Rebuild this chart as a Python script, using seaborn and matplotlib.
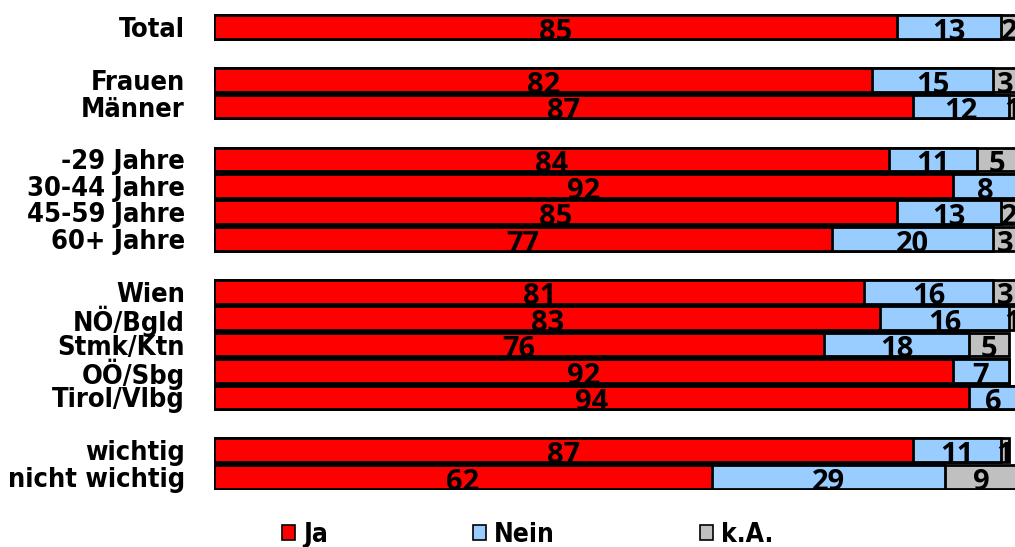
import matplotlib
matplotlib.use("Agg")
import matplotlib.pyplot as plt
import matplotlib.patches as mpatches
import seaborn as sns
import pandas as pd

# Survey results in percent, grouped blocks separated by a blank row
groups = [
    ["Total"],
    ["Frauen", "Männer"],
    ["-29 Jahre", "30-44 Jahre", "45-59 Jahre", "60+ Jahre"],
    ["Wien", "NÖ/Bgld", "Stmk/Ktn", "OÖ/Sbg", "Tirol/Vlbg"],
    ["wichtig", "nicht wichtig"],
]
ja = [85, 82, 87, 84, 92, 85, 77, 81, 83, 76, 92, 94, 87, 62]
nein = [13, 15, 12, 11, 8, 13, 20, 16, 16, 18, 7, 6, 11, 29]
ka = [2, 3, 1, 5, 0, 2, 3, 3, 1, 5, 0, 0, 1, 9]

series_names = ["Ja", "Nein", "k.A."]
colors = ["#FF0000", "#99CCFF", "#C0C0C0"]

# row positions: one empty row between groups
labels, pos = [], []
p = 0
for g in groups:
    for name in g:
        labels.append(name)
        pos.append(p)
        p += 1
    p += 1
last = pos[-1]

df = pd.DataFrame({"label": labels, "pos": pos, "ja": ja, "nein": nein, "ka": ka})
df["c_nein"] = df["ja"] + df["nein"]
df["c_ka"] = df["c_nein"] + df["ka"]

sns.set_theme(style="white")
plt.rcParams["text.color"] = "black"
plt.rcParams["ytick.color"] = "black"

fig = plt.figure(figsize=(10.15, 5.47), dpi=100)
fig.patch.set_facecolor("white")
ax = fig.add_axes([214 / 1015, (547 - 490) / 547, 803 / 1015, 476 / 547])

# layered cumulative bars: total (k.A.), Ja+Nein, Ja
for col, color in zip(["c_ka", "c_nein", "ja"], colors[::-1]):
    sns.barplot(data=df, x=col, y="pos", orient="h", native_scale=True,
                color=color, edgecolor="black", linewidth=2, width=0.9,
                errorbar=None, ax=ax, saturation=1)

ax.set_xlim(0, 100)
ax.set_ylim(last + 0.5, -0.5)
ax.set_yticks(pos)
ax.set_yticklabels(labels, fontfamily="DejaVu Sans", fontstretch="condensed",
                   fontweight="bold", fontsize=19.5, color="black")
ax.tick_params(axis="y", length=0, pad=21)
ax.set_xticks([])
ax.set_xlabel("")
ax.set_ylabel("")
for s in ax.spines.values():
    s.set_visible(False)

# value labels centred on each segment
for _, r in df.iterrows():
    segs = [(0, r["ja"]), (r["ja"], r["nein"]), (r["c_nein"], r["ka"])]
    for start, val in segs:
        if val <= 0:
            continue
        ax.text(start + val / 2, r["pos"] + 0.2, f"{int(val)}",
                ha="center", va="center", fontsize=21, fontweight="bold",
                fontfamily=["Open Sans", "DejaVu Sans"], color="black")

handles = [mpatches.Patch(facecolor=c, edgecolor="black", linewidth=1.2, label=n)
           for c, n in zip(colors, series_names)]
leg = fig.legend(handles=handles, loc="center", bbox_to_anchor=(0.52, (547 - 535) / 547),
                 ncol=3, frameon=False, handlelength=0.5, handleheight=0.5,
                 handletextpad=0.3, columnspacing=5.5,
                 prop={"family": "DejaVu Sans", "stretch": "condensed",
                       "weight": "bold", "size": 19})
for t in leg.get_texts():
    t.set_color("black")

fig.savefig("out.png", dpi=100, facecolor="white")
